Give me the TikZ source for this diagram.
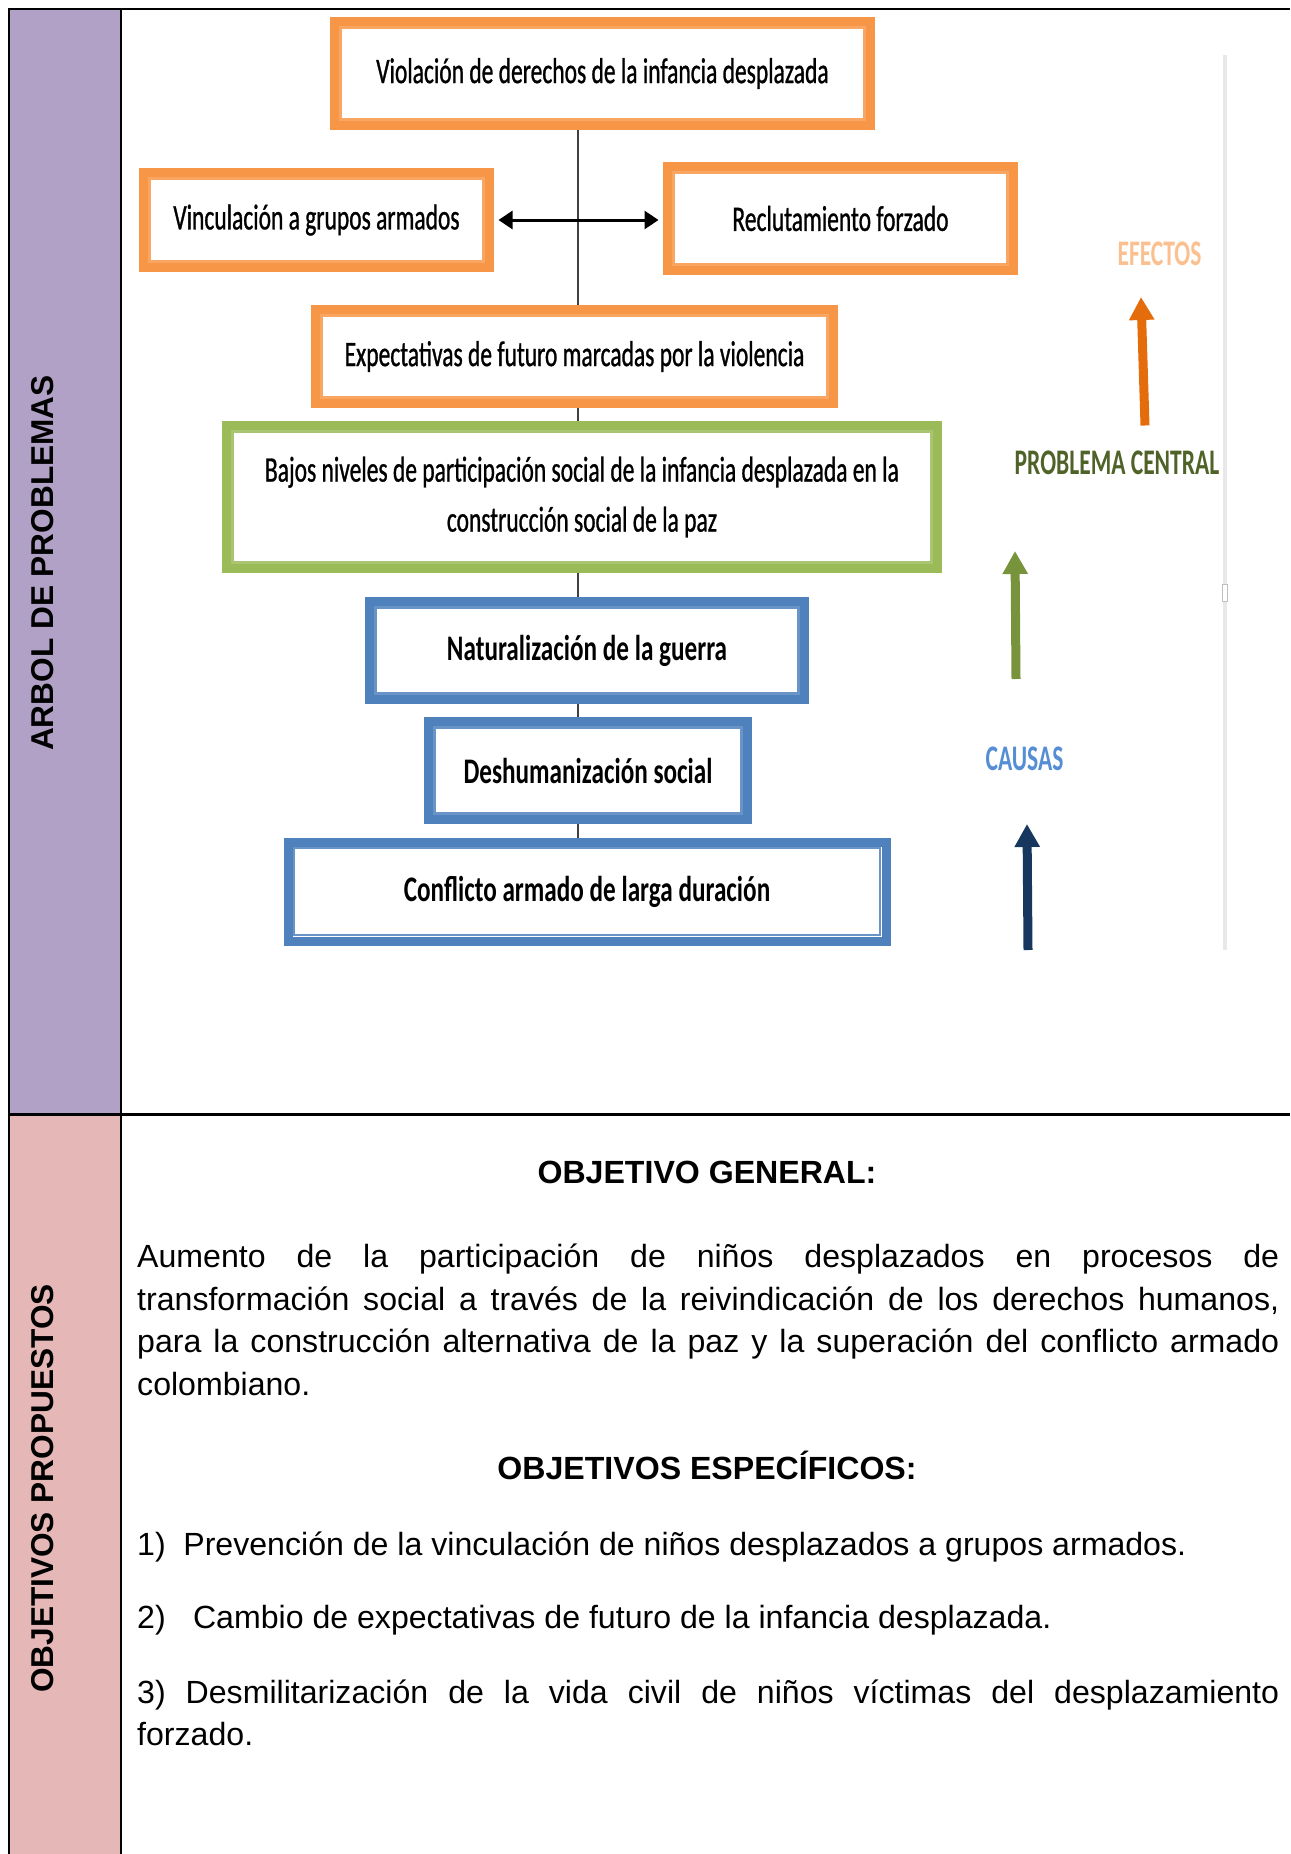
\documentclass[tikz,border=0pt]{standalone}
\usepackage{fontspec}
\setmainfont{Liberation Sans}
\newfontfamily\treefont[FakeStretch=0.653,FakeBold=0.8]{Carlito}
\newfontfamily\rotulofont[FakeStretch=0.653]{Carlito}
\newfontfamily\causefont[FakeStretch=0.70]{Carlito}
\usetikzlibrary{arrows.meta,backgrounds}
\definecolor{efecto}{HTML}{F79646}
\definecolor{central}{HTML}{9BBB59}
\definecolor{causa}{HTML}{4F81BD}
\definecolor{lila}{HTML}{B2A1C7}
\definecolor{rosa}{HTML}{E5B8B7}
\definecolor{efectotxt}{HTML}{FAC090}
\definecolor{efectoarr}{HTML}{E46C0A}
\definecolor{centraltxt}{HTML}{4F6228}
\definecolor{centralarr}{HTML}{77933C}
\definecolor{causatxt}{HTML}{558ED5}
\definecolor{causaarr}{HTML}{17375E}
\tikzset{
  arbolbox/.style={draw=#1, line width=9pt, fill=white, inner sep=0pt, align=center,
    font=\treefont\fontsize{36}{50}\selectfont},
  causabox/.style={arbolbox=causa, font=\causefont\bfseries\fontsize{36}{50}\selectfont},
  flecha/.style={draw=#1, line width=9pt, -{Triangle[width=24pt,length=23pt]}},
  rotulo/.style={text=#1, font=\rotulofont\bfseries\fontsize{36}{40}\selectfont},
  celda/.style={rotate=90, inner sep=0pt, font=\bfseries\fontsize{31.6}{36}\selectfont},
  cuerpo/.style={inner sep=0pt, font=\fontsize{32.1}{42.5}\selectfont},
}
\begin{document}
\begin{tikzpicture}[x=1pt,y=-1pt]
  \useasboundingbox (0,0) rectangle (1290,1854);
  % tabla
  \fill[lila] (9,9) rectangle (121,1114.5);
  \fill[rosa] (9,1114.5) rectangle (121,1854);
  \draw[line width=2.5pt] (9,1854) -- (9,9) -- (1290,9);
  \draw[line width=2.5pt] (121,9) -- (121,1854);
  \draw[line width=2.5pt] (9,1114.5) -- (1290,1114.5);
  \node[celda] (arbol) at (43,563) {ARBOL DE PROBLEMAS};
  \node[celda] (objprop) at (43,1488.5) {OBJETIVOS PROPUESTOS};

  % arbol de problemas
  \node[arbolbox=efecto, minimum width=536pt, minimum height=104pt] (viol) at (602.5,73.5)
    {Violación de derechos de la infancia desplazada};
  \node[arbolbox=efecto, minimum width=346pt, minimum height=95pt] (vinc) at (316.5,220)
    {Vinculación a grupos armados};
  \node[arbolbox=efecto, minimum width=346pt, minimum height=104pt] (recl) at (840.5,218.5)
    {Reclutamiento forzado};
  \node[arbolbox=efecto, minimum width=518pt, minimum height=94pt] (expe) at (574.5,356.5)
    {Expectativas de futuro marcadas por la violencia};
  \node[arbolbox=central, minimum width=711pt, minimum height=143pt] (bajos) at (582,497)
    {Bajos niveles de participación social de la infancia desplazada en la\\
     construcción social de la paz};
  \node[causabox, minimum width=435pt, minimum height=98pt] (natu) at (587,650.5)
    {Naturalización de la guerra};
  \node[causabox, minimum width=319pt, minimum height=98pt] (desh) at (588,770.5)
    {Deshumanización social};
  \node[causabox, minimum width=598pt, minimum height=99pt] (conf) at (587,891.5)
    {Conflicto armado de larga duración};
  \foreach \n/\c in {viol/efecto, vinc/efecto, recl/efecto, expe/efecto,
                     bajos/central, natu/causa, desh/causa, conf/causa}
    \draw[\c!85, line width=2.5pt] ([xshift=10.5pt,yshift=-10.5pt]\n.north west) rectangle ([xshift=-10.5pt,yshift=10.5pt]\n.south east);
  \coordinate (tronco) at (578,0);
  \begin{scope}[on background layer]
    \draw[black!75, line width=1.3pt] (viol.south -| tronco) -- (conf.north -| tronco);
  \end{scope}
  \draw[line width=3pt, shorten <=4.5pt, shorten >=4.5pt,
        {Triangle[width=18pt,length=14pt]}-{Triangle[width=18pt,length=14pt]}]
    (vinc.east) -- (vinc.east -| recl.west);

  % rotulos y flechas
  \draw[gray!18, line width=4pt] (1225,55) -- (1225,950);
  \draw[gray!50, fill=white, line width=0.8pt] (1222,584) rectangle (1227,601);
  \node[rotulo=efectotxt] (efectos) at (1159.5,253.5) {EFECTOS};
  \node[rotulo=centraltxt] (central) at (1117,463) {PROBLEMA CENTRAL};
  \node[rotulo=causatxt] (causas) at (1024.5,759) {CAUSAS};
  \coordinate (efe0) at (1145,425.5);
  \coordinate (efe1) at (1141,297);
  \coordinate (cen0) at (1016,679);
  \coordinate (cen1) at (1015,551);
  \coordinate (cau0) at (1028,950);
  \coordinate (cau1) at (1027,824);
  \draw[flecha=efectoarr] (efe0) -- (efe1);
  \draw[flecha=centralarr] (cen0) -- (cen1);
  \draw[flecha=causaarr] (cau0) -- (cau1);

  % objetivos
  \node[cuerpo, anchor=base] (objgen) at (707,1183) {\bfseries OBJETIVO GENERAL:};
  \node[cuerpo, anchor=base west, text width=1142pt, align=justify] (general) at (137,1267.5)
    {Aumento de la participación de niños desplazados en procesos de\linebreak
     transformación social a través de la reivindicación de los derechos humanos,\linebreak
     para la construcción alternativa de la paz y la superación del conflicto armado\linebreak
     colombiano.};
  \node[cuerpo, anchor=base] (objesp) at (707,1479) {\bfseries OBJETIVOS ESPECÍFICOS:};
  \node[cuerpo, anchor=base west] (esp1) at (137,1555)
    {1)\hspace{0.55em}Prevención de la vinculación de niños desplazados a grupos armados.};
  \node[cuerpo, anchor=base west] (esp2) at (137,1628)
    {2)\hspace{0.85em}Cambio de expectativas de futuro de la infancia desplazada.};
  \node[cuerpo, anchor=base west, text width=1142pt, align=justify] (esp3) at (137,1703)
    {3) Desmilitarización de la vida civil de niños víctimas del desplazamiento\linebreak
     forzado.};
\end{tikzpicture}
\end{document}
